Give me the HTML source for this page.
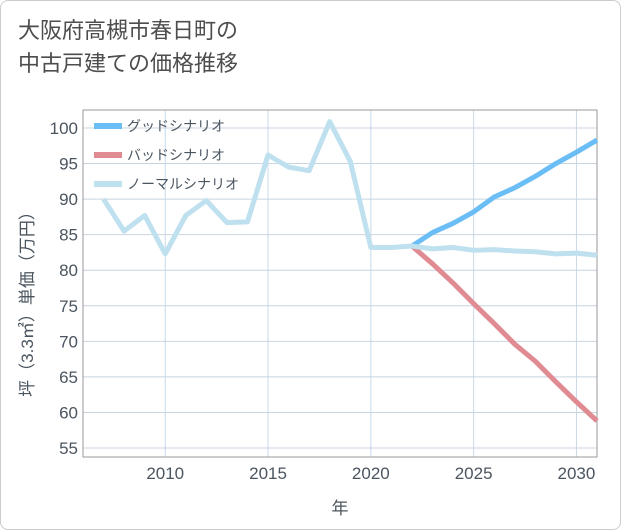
<!DOCTYPE html>
<html><head><meta charset="utf-8"><style>
body{margin:0;background:#fff;font-family:"Liberation Sans","Noto Sans CJK JP",sans-serif;}
.card{position:absolute;left:0;top:0;width:619px;height:528px;border:1px solid #ccc;border-radius:8px;background:#fff;}
.title{position:absolute;left:18px;top:14px;font-size:22px;line-height:33px;color:#4d4d4d;}
</style></head><body>
<div class="card"></div>
<div class="title">大阪府高槻市春日町の<br>中古戸建ての価格推移</div>
<svg id="c" width="621" height="530" style="position:absolute;left:0;top:0"></svg>
<script>
const years=[2007,2008,2009,2010,2011,2012,2013,2014,2015,2016,2017,2018,2019,2020,2021,2022,2023,2024,2025,2026,2027,2028,2029,2030,2031];
const normal=[90.0,85.5,87.7,82.3,87.7,89.8,86.7,86.8,96.2,94.5,94.0,100.9,95.3,83.2,83.2,83.4,83.0,83.2,82.8,82.9,82.7,82.6,82.3,82.4,82.1];
const goodYears=[2022,2023,2024,2025,2026,2027,2028,2029,2030,2031];
const good=[83.4,85.3,86.6,88.2,90.3,91.6,93.2,95.0,96.6,98.3];
const bad=[83.4,80.9,78.2,75.3,72.5,69.6,67.2,64.3,61.5,58.8];
const yTicks=[55,60,65,70,75,80,85,90,95,100];
const xTicks=[2010,2015,2020,2025,2030];
const L=83,R=597,T=110,B=457;
const x=v=>L+(v-2006)*(R-L)/(2031-2006);
const y=v=>448-(v-55)*320/45;
const s=document.getElementById('c');const NS='http://www.w3.org/2000/svg';
function mk(t,a,p){const e=document.createElementNS(NS,t);for(const k in a)e.setAttribute(k,a[k]);(p||s).appendChild(e);return e;}
for(let yr=2007;yr<=2031;yr++){if(yr%5===0){const l=mk('line',{x1:x(yr),x2:x(yr),y1:T,y2:B,stroke:'#c8d8e8','stroke-width':1});}}
yTicks.forEach(v=>{const l=mk('line',{x1:L,x2:R,y1:y(v),y2:y(v),stroke:'#c8d4e0','stroke-width':1});
const t=mk('text',{x:L-5,y:y(v)+6,'text-anchor':'end','font-size':17,fill:'#4a5560'});t.textContent=v;});
xTicks.forEach(v=>{const t=mk('text',{x:x(v),y:479,'text-anchor':'middle','font-size':17,fill:'#4a5560'});t.textContent=v;});
const fr=mk('rect',{x:L,y:T,width:R-L,height:B-T,fill:'none',stroke:'#999','stroke-width':1});
function line(xs,vs,col,name){const p=mk('polyline',{points:xs.map((a,i)=>x(a)+','+y(vs[i])).join(' '),fill:'none',stroke:col,'stroke-width':5,'stroke-linejoin':'round'});}
line(goodYears,bad,'#e08a92','bad-scenario-line');
line(goodYears,good,'#6bbef5','good-scenario-line');
line(years,normal,'#bfe0ee','normal-scenario-line');
const lg=[['グッドシナリオ','#6bbef5'],['バッドシナリオ','#e08a92'],['ノーマルシナリオ','#bfe0ee']];
lg.forEach((d,i)=>{const g=mk('g',{});
mk('line',{x1:94,x2:122,y1:126+i*29,y2:126+i*29,stroke:d[1],'stroke-width':6},g);
const t=mk('text',{x:127,y:131+i*29,'font-size':14,fill:'#4a5560'},g);t.textContent=d[0];});
const xt=mk('text',{x:340,y:514,'text-anchor':'middle','font-size':17,fill:'#4a5560'});xt.textContent='年';
const yt=mk('text',{x:0,y:0,'text-anchor':'middle','font-size':17,fill:'#4a5560',transform:'translate(33,300) rotate(-90)'});yt.textContent='坪（3.3㎡）単価（万円）';
</script></body></html>
